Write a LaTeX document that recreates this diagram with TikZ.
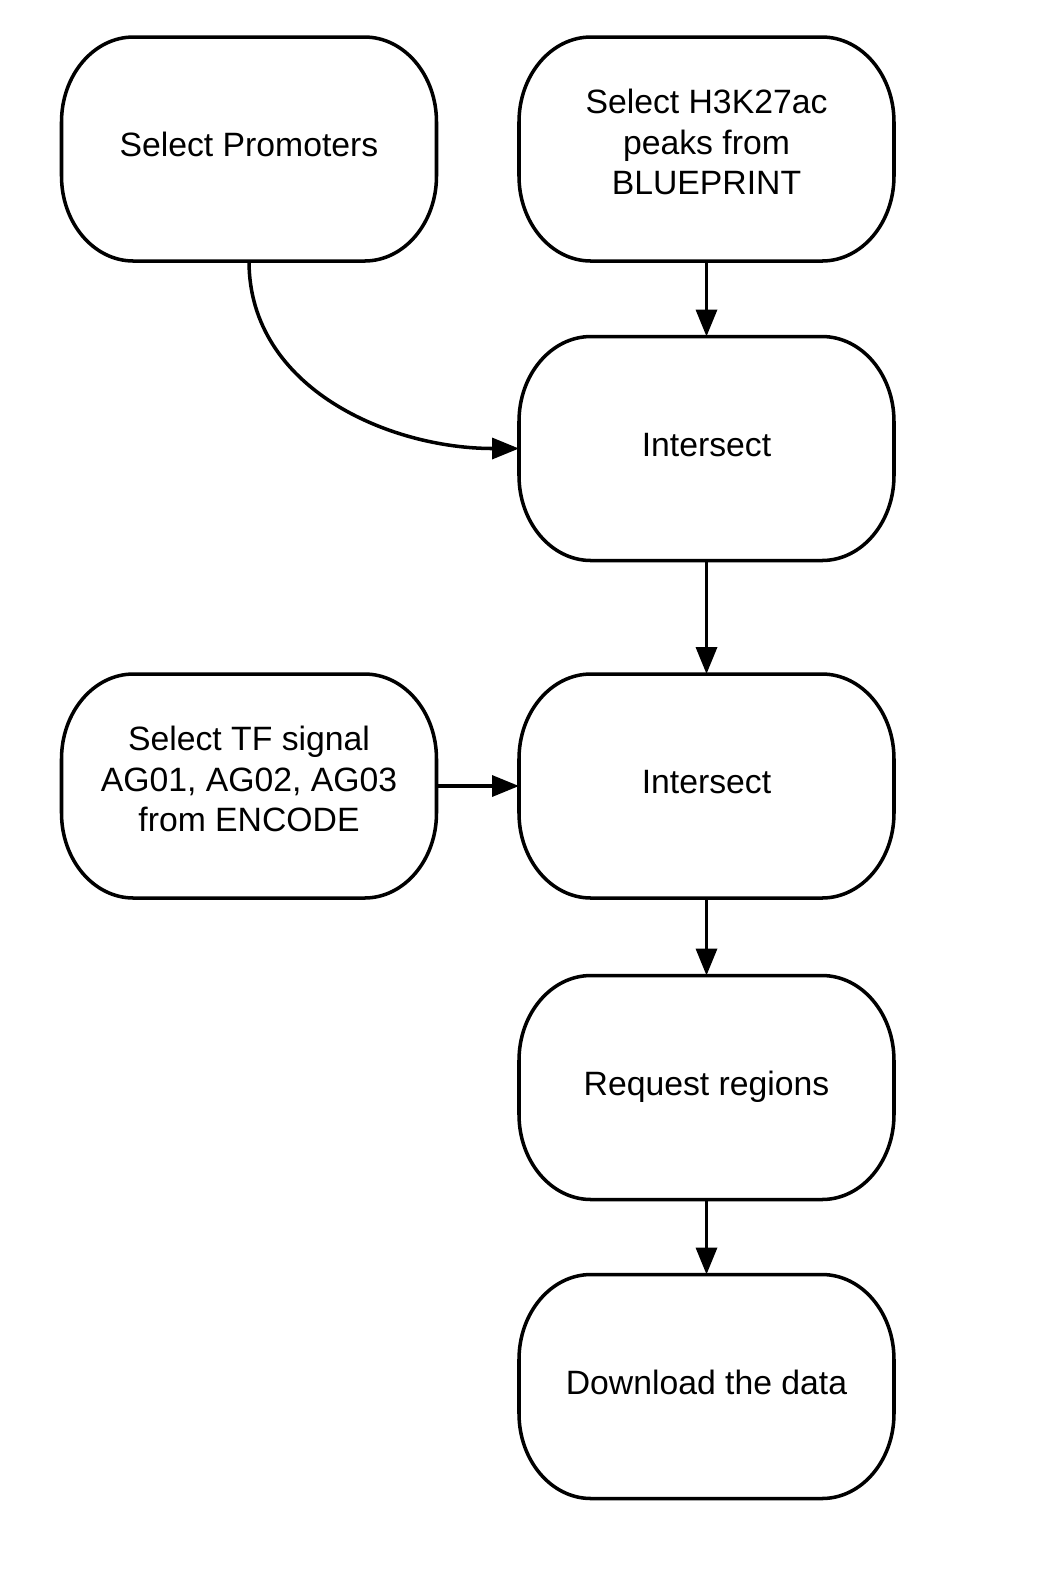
\documentclass[tikz,border=0pt]{standalone}
\usepackage{fontspec}
\setmainfont{Liberation Sans}
\usetikzlibrary{arrows.meta}
\tikzstyle{stepbox}=[rectangle, minimum width=3.75cm, minimum height=2.24cm, inner sep=0pt, outer sep=0pt, align=center, font=\fontsize{9.6}{11.6}\selectfont]
\tikzstyle{oneline}=[text height=7pt, text depth=2.73pt]
\tikzstyle{threeline}=[text height=28.78pt, text depth=2.73pt]
\tikzstyle{outline}=[draw, line width=1pt]
\tikzstyle{edge} = [draw, line width=1pt, -{Triangle[length=2.7mm,width=2.1mm]}]

\begin{document}
\begin{tikzpicture}

    \useasboundingbox (0,0) rectangle (10.59,-15.92);

    \def\rx{0.72cm}
    \def\ry{0.85cm}

     \foreach \x/\y/\name/\lines/\txt in {2.49/-1.49/prom/oneline/{Select Promoters}, 7.065/-1.49/peaks/threeline/{Select H3K27ac\\peaks from\\BLUEPRINT}, 7.065/-4.485/isect/oneline/{Intersect}, 2.49/-7.86/tfsig/threeline/{Select TF signal\\AG01, AG02, AG03\\from ENCODE}, 7.065/-7.86/isecttf/oneline/{Intersect}, 7.065/-10.875/request/oneline/{Request regions}, 7.065/-13.865/download/oneline/{Download the data}}
        \node[stepbox, \lines] (\name) at (\x, \y) {\txt};

    % box outlines
    \foreach \name in {prom, peaks, isect, tfsig, isecttf, request, download}
        \path[outline] ([xshift=\rx]\name.north west) -- ([xshift=-\rx]\name.north east)
            arc[start angle=90, end angle=0, x radius=\rx, y radius=\ry] -- ++(0,-0.54)
            arc[start angle=0, end angle=-90, x radius=\rx, y radius=\ry] -- ([xshift=\rx]\name.south west)
            arc[start angle=270, end angle=180, x radius=\rx, y radius=\ry] -- ++(0,0.54)
            arc[start angle=180, end angle=90, x radius=\rx, y radius=\ry] -- cycle;

    \foreach \source/ \dest in {peaks/isect, isect/isecttf, isecttf/request, request/download}
        \path[edge] (\source.south) -- (\dest.north);

    \path[edge] (tfsig.east) -- (isecttf.west);
    \path[edge] (prom.south) to[out=-90, in=180] (isect.west);

\end{tikzpicture}
\end{document}
